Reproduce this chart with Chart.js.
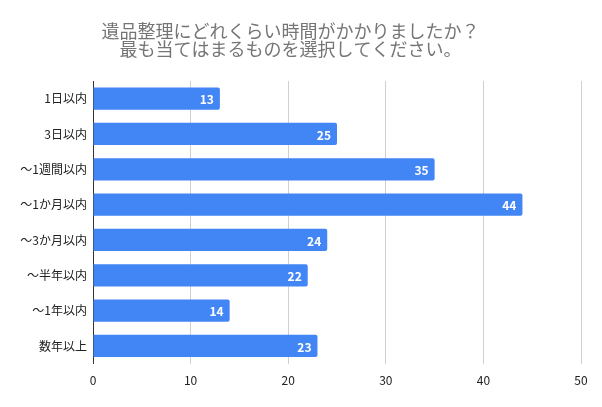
<!DOCTYPE html>
<html>
<head>
<meta charset="utf-8">
<script src="https://cdn.jsdelivr.net/npm/chart.js@4"></script>
<style>
  html, body { margin: 0; padding: 0; background: #fff; }
  #wrap { width: 602px; height: 407px; }
</style>
</head>
<body>
<div id="wrap"><canvas id="grafico"></canvas></div>
<script>
// Dados do gráfico
const categorias = ['1日以内', '3日以内', '〜1週間以内', '〜1か月以内', '〜3か月以内', '〜半年以内', '〜1年以内', '数年以上'];
const valores = [13, 25, 35, 44, 24, 22, 14, 23];
const titulo = ['遺品整理にどれくらい時間がかかりましたか？', '最も当てはまるものを選択してください。'];
const eixoMax = 50;
const passo = 10;

const fonte = '"Noto Sans CJK JP", "Noto Sans", sans-serif';

// Plugin simples para escrever o valor dentro da barra
const rotulosValor = {
    id: 'rotulosValor',
    afterDatasetsDraw(chart) {
        const ctx = chart.ctx;
        const meta = chart.getDatasetMeta(0);
        ctx.save();
        ctx.fillStyle = '#ffffff';
        ctx.font = '600 12px ' + fonte;
        ctx.textAlign = 'right';
        ctx.textBaseline = 'middle';
        meta.data.forEach((barra, i) => {
            ctx.fillText(String(valores[i]), barra.x - 6, barra.y + 1);
        });
        ctx.restore();
    }
};

const ctx = document.getElementById('grafico').getContext('2d');
new Chart(ctx, {
    type: 'bar',
    data: {
        labels: categorias,
        datasets: [{
            data: valores,
            backgroundColor: '#4285F4',
            borderRadius: 2,
            borderSkipped: 'start',
            categoryPercentage: 1,
            barPercentage: 0.63
        }]
    },
    options: {
        indexAxis: 'y',
        responsive: true,
        maintainAspectRatio: false,
        animation: false,
        layout: {
            padding: { top: 22, right: 21, bottom: 9, left: 0 }
        },
        plugins: {
            legend: { display: false },
            tooltip: { enabled: false },
            title: {
                display: true,
                text: titulo,
                color: '#757575',
                font: { family: fonte, size: 18, weight: 'normal', lineHeight: 1.0 },
                padding: { top: 0, bottom: 23 }
            }
        },
        scales: {
            x: {
                min: 0,
                max: eixoMax,
                ticks: {
                    stepSize: passo,
                    color: '#222',
                    font: { family: fonte, size: 12 },
                    padding: 10
                },
                grid: { color: '#d0d0d0', drawTicks: false },
                border: { display: false }
            },
            y: {
                afterFit(escala) { escala.width = 93; },
                ticks: {
                    color: '#222',
                    font: { family: fonte, size: 12 },
                    padding: 6
                },
                grid: { display: false, drawTicks: false },
                border: { display: true, color: '#333', width: 1 }
            }
        }
    },
    plugins: [rotulosValor]
});
</script>
</body>
</html>
